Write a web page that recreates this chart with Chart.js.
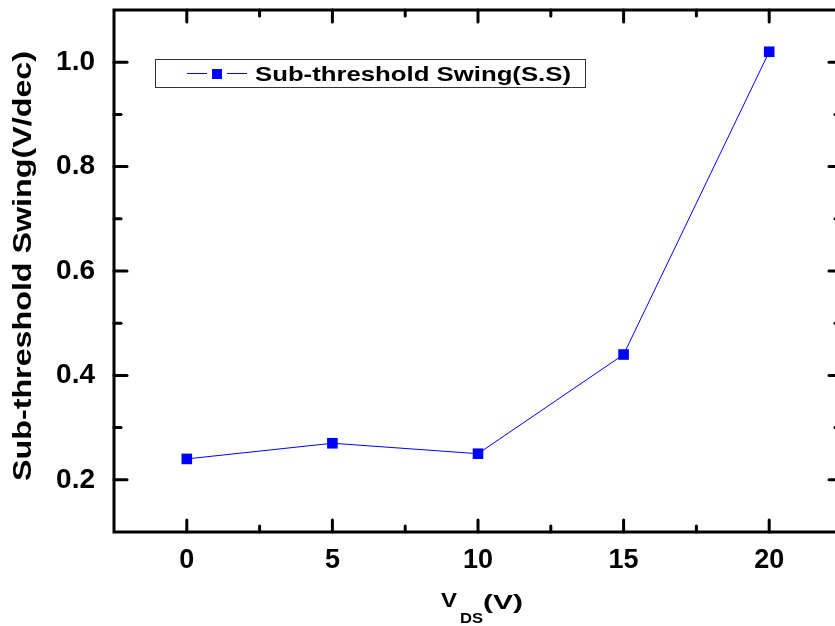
<!DOCTYPE html>
<html>
<head>
<meta charset="utf-8">
<script src="https://cdn.jsdelivr.net/npm/chart.js@4.4.0/dist/chart.umd.min.js"></script>
<style>
  html, body { margin: 0; padding: 0; background: #fff; }
  #wrap { width: 835px; height: 626px; overflow: hidden; position: relative; }
  canvas { display: block; }
</style>
</head>
<body>
<div id="wrap">
  <canvas id="ssChart" width="850" height="626"></canvas>
</div>
<script>
// values
const vds = [0, 5, 10, 15, 20];
const swing = [0.24, 0.27, 0.25, 0.44, 1.02];
const xTicks = [0, 5, 10, 15, 20];
const xMinorTicks = [2.5, 7.5, 12.5, 17.5];
const yTicks = [0.2, 0.4, 0.6, 0.8, 1.0];
const yMinorTicks = [0.3, 0.5, 0.7, 0.9];
const seriesLabel = 'Sub-threshold Swing(S.S)';
const yTitle = 'Sub-threshold Swing(V/dec)';

const FONT = '"Liberation Sans", Arial, sans-serif';
const BLUE = '#0000ff';

// draws bold text squeezed/stretched to a given width (the original uses a wide face)
function drawWide(ctx, text, x, y, size, width)
{
    ctx.save();
    ctx.font = 'bold ' + size + 'px ' + FONT;
    const natural = ctx.measureText(text).width;
    ctx.translate(x, y);
    ctx.scale(width / natural, 1);
    ctx.textAlign = 'left';
    ctx.textBaseline = 'alphabetic';
    ctx.fillText(text, 0, 0);
    ctx.restore();
}

// frame with inward ticks on all four sides, legend box and axis titles
const framePlugin = {
    id: 'frame',
    afterDraw(chart) {
        const ctx = chart.ctx;
        const a = chart.chartArea;
        const xs = chart.scales.x;
        const ys = chart.scales.y;
        ctx.save();
        ctx.strokeStyle = '#000';
        ctx.lineWidth = 3;
        ctx.lineCap = 'round';
        ctx.strokeRect(a.left, a.top, a.right - a.left, a.bottom - a.top);

        function tick(x1, y1, x2, y2) {
            ctx.beginPath();
            ctx.moveTo(x1, y1);
            ctx.lineTo(x2, y2);
            ctx.stroke();
        }
        xTicks.forEach(v => {
            const px = xs.getPixelForValue(v);
            tick(px, a.bottom, px, a.bottom - 12);
            tick(px, a.top, px, a.top + 12);
        });
        xMinorTicks.forEach(v => {
            const px = xs.getPixelForValue(v);
            tick(px, a.bottom, px, a.bottom - 6);
            tick(px, a.top, px, a.top + 6);
        });
        yTicks.forEach(v => {
            const py = ys.getPixelForValue(v);
            tick(a.left, py, a.left + 13, py);
            tick(a.right, py, a.right - 13, py);
        });
        yMinorTicks.forEach(v => {
            const py = ys.getPixelForValue(v);
            tick(a.left, py, a.left + 7, py);
            tick(a.right, py, a.right - 7, py);
        });

        // legend
        ctx.lineWidth = 1;
        ctx.lineCap = 'butt';
        ctx.strokeStyle = '#333';
        ctx.strokeRect(155.5, 59.5, 430, 28);
        ctx.strokeStyle = BLUE;
        tick(187, 73.5, 207, 73.5);
        tick(227, 73.5, 247, 73.5);
        ctx.fillStyle = BLUE;
        ctx.fillRect(212, 69, 10, 10);
        ctx.fillStyle = '#000';
        drawWide(ctx, seriesLabel, 255, 81, 20, 316);

        // y title
        ctx.save();
        ctx.translate(31, 481);
        ctx.rotate(-Math.PI / 2);
        drawWide(ctx, yTitle, 0, 0, 25, 430);
        ctx.restore();

        // x title V_DS(V)
        drawWide(ctx, 'V', 441, 607, 21, 16);
        drawWide(ctx, 'DS', 460, 623, 15, 23);
        drawWide(ctx, '(V)', 483, 609, 21, 40);
        ctx.restore();
    }
};

const ctx = document.getElementById('ssChart').getContext('2d');
const ssChart = new Chart(ctx, {
    type: 'scatter',
    data: {
        datasets: [{
            label: seriesLabel,
            data: vds.map((v, i) => ({x: v, y: swing[i]})),
            showLine: true,
            borderColor: BLUE,
            borderWidth: 1,
            backgroundColor: BLUE,
            pointStyle: 'rect',
            pointRadius: 7.5,
            pointBorderWidth: 0,
            pointHoverRadius: 7.5
        }]
    },
    options: {
        responsive: false,
        animation: false,
        layout: {
            padding: {top: 10, right: 8, left: 0, bottom: 0}
        },
        plugins: {
            legend: {display: false},
            tooltip: {enabled: false}
        },
        scales: {
            x: {
                type: 'linear',
                min: -2.5,
                max: 22.5,
                grid: {display: false, drawTicks: false},
                border: {display: false},
                afterBuildTicks: function(scale) {
                    scale.ticks = xTicks.map(v => ({value: v}));
                },
                afterFit: function(scale) {
                    scale.height = 94;
                    scale.paddingLeft = 0;
                    scale.paddingRight = 0;
                },
                ticks: {
                    color: '#000',
                    padding: 12,
                    maxRotation: 0,
                    font: {family: FONT, size: 27, weight: 'bold'}
                }
            },
            y: {
                type: 'linear',
                min: 0.1,
                max: 1.1,
                grid: {display: false, drawTicks: false},
                border: {display: false},
                afterBuildTicks: function(scale) {
                    scale.ticks = yTicks.map(v => ({value: v}));
                },
                afterFit: function(scale) {
                    scale.width = 114;
                    scale.paddingTop = 0;
                    scale.paddingBottom = 0;
                },
                ticks: {
                    color: '#000',
                    padding: 19,
                    font: {family: FONT, size: 28, weight: 'bold'},
                    callback: function(value) {
                        return value.toFixed(1);
                    }
                }
            }
        }
    },
    plugins: [framePlugin]
});
</script>
</body>
</html>
